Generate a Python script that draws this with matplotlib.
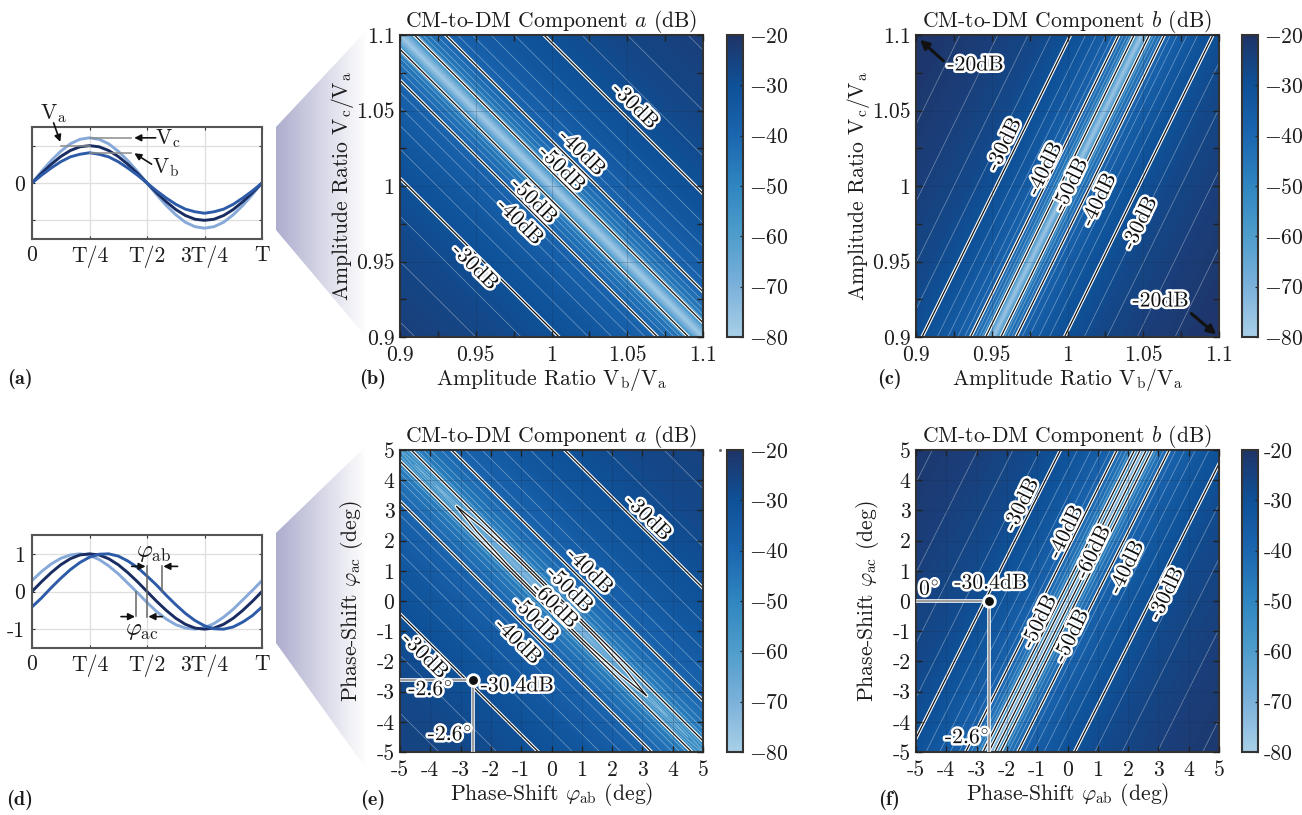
#!/usr/bin/env python3
"""CM-to-DM conversion maps against amplitude and phase imbalance."""

import matplotlib

matplotlib.use("Agg")

import matplotlib.patheffects as pe
import matplotlib.pyplot as plt
import numpy as np
from matplotlib.colors import LinearSegmentedColormap, Normalize
from matplotlib.patches import Polygon

plt.rcParams["font.family"] = "cmr10"
plt.rcParams["mathtext.fontset"] = "cm"
plt.rcParams["axes.unicode_minus"] = False
plt.rcParams["axes.formatter.use_mathtext"] = True
plt.rcParams["contour.negative_linestyle"] = "solid"
plt.rcParams["text.color"] = "#1c1c1c"
plt.rcParams["axes.labelcolor"] = "#1c1c1c"
plt.rcParams["xtick.labelcolor"] = "#1c1c1c"
plt.rcParams["ytick.labelcolor"] = "#1c1c1c"

###############################################################################
# Data
###############################################################################

T_FRAC = [i / 24 for i in range(25)]

VA = [0, .26, .50, .71, .87, .97, 1, .97, .87, .71, .50, .26, 0,
      -.26, -.50, -.71, -.87, -.97, -1, -.97, -.87, -.71, -.50, -.26, 0]
VB = [0, .21, .40, .57, .70, .77, .81, .77, .70, .57, .40, .21, 0,
      -.21, -.40, -.57, -.70, -.77, -.81, -.77, -.70, -.57, -.40, -.21, 0]
VC = [0, .31, .60, .85, 1.05, 1.17, 1.21, 1.17, 1.05, .85, .60, .31, 0,
      -.31, -.60, -.85, -1.05, -1.17, -1.21, -1.17, -1.05, -.85, -.60, -.31, 0]

PA = [0, .26, .50, .71, .87, .97, 1, .97, .87, .71, .50, .26, 0,
      -.26, -.50, -.71, -.87, -.97, -1, -.97, -.87, -.71, -.50, -.26, 0]
PB = [-.41, -.17, .10, .35, .58, .77, .91, .99, 1.0, .94, .81, .64, .41,
      .17, -.10, -.35, -.58, -.77, -.91, -.99, -1.0, -.94, -.81, -.64, -.41]
PC = [.29, .53, .73, .88, .97, 1.0, .96, .85, .68, .47, .22, -.03, -.29,
      -.53, -.73, -.88, -.97, -1.0, -.96, -.85, -.68, -.47, -.22, .03, .29]

# panel (b): distance |Vb/Va + Vc/Va - 2| and level there
B_DIST = [0, .003, .006, .0095, .012, .015, .019, .0238, .03, .038, .0477,
          .06, .0755, .095, .12, .15, .19, .21]
B_DB = [-79, -73, -65, -50, -48, -46, -44, -42, -40, -38, -36,
        -34, -32, -30, -28, -26, -24, -23]

# panel (c): distance of the iso-line from the centre, measured at Vc/Va = 1
C_DIST = [0, .0015, .003, .005, .006, .0075, .0095, .012, .015, .019, .0235,
          .03, .037, .047, .06, .075, .095, .12, .16]
C_DB = [-78, -73, -65, -50, -48, -46, -44, -42, -40, -38, -36,
        -34, -32, -30, -28, -26, -24, -22, -19.5]

# panel (e): levels away from the valley, then the valley along its length
E_DIST = [.37, .7, 1.0, 1.35, 1.7, 2.15, 2.7, 3.4, 4.3, 5.43, 6.8, 8.0, 10.5]
E_DB = [-50, -46.5, -44, -42, -40, -38, -36, -34, -32, -30, -28, -26.6, -24.5]
E_ALONG = [-5.2, -3.14, -2.4, -1.2, 0, 1.2, 2.4, 3.14, 5.2]
E_INNER_DIST = [0, .1, .25]
E_INNER_DB = [
    [-54, -60, -66, -73, -76, -73, -66, -60, -54],
    [-53, -56, -62, -68, -70, -68, -62, -56, -53],
    [-51, -52.5, -57, -60.5, -61.5, -60.5, -57, -52.5, -51],
]

# panel (f): distance of the iso-line from the centre, measured at phi_ac = 0
F_DIST = [0, .1, .2, .285, .35, .43, .54, .68, .86, 1.08, 1.37, 1.72, 2.17,
          2.73, 3.4, 4.3, 5.0, 6.0, 8.0]
F_DB = [-75, -60, -54, -50, -48, -46, -44, -42, -40, -38, -36, -34, -32,
        -30, -28, -26, -24.7, -23.2, -20.7]

# contour label text, x, y
B_LABELS = [("-30dB", 1.0551, 1.053), ("-40dB", 1.0201, 1.0219),
            ("-50dB", 1.0069, 1.0113), ("-50dB", .9884, .9901),
            ("-40dB", .9792, .9762), ("-30dB", .9495, .9464)]
C_LABELS = [("-30dB", .9582, 1.0275), ("-40dB", .985, 1.0115),
            ("-50dB", 1.002, 1.0009), ("-40dB", 1.0207, .9909),
            ("-30dB", 1.0477, .9754)]
E_LABELS = [("-30dB", 3.19, 2.76), ("-40dB", 1.26, .99), ("-50dB", .6, .38),
            ("-60dB", .11, -.14), ("-50dB", -.53, -.6), ("-40dB", -1.1, -1.34),
            ("-30dB", -4.18, -1.81)]
F_LABELS = [("-30dB", -1.52, 3.19), ("-40dB", -.05, 2.29), ("-60dB", .85, 1.62),
            ("-40dB", 1.95, 1.12), ("-30dB", 3.26, .24), ("-50dB", -.93, -.68),
            ("-50dB", .13, -1.15)]

AMP_TICKS = [.9, .95, 1, 1.05, 1.1]
AMP_MINOR = [.925, .975, 1.025, 1.075]
AMP_TICK_LABELS = ["0.9", "0.95", "1", "1.05", "1.1"]
PHASE_TICKS = [-5, -4, -3, -2, -1, 0, 1, 2, 3, 4, 5]
CBAR_TICKS = [-20, -30, -40, -50, -60, -70, -80]
TIME_TICKS = [0, .25, .5, .75, 1]
TIME_LABELS = ["0", "T/4", "T/2", "3T/4", "T"]

CMAP_STOPS = ["#a8cfe8", "#7bb1da", "#4f9dcc", "#2f86c0", "#1b66b0", "#0e5198",
              "#1f3468"]

###############################################################################
# Helpers
###############################################################################

W, H = 1302, 815
DARK = "#333333"
FS = 15.6
CMAP = LinearSegmentedColormap.from_list("cm_dm", CMAP_STOPS)
NORM = Normalize(-80, -20)
FILL_LEVELS = np.arange(-80, -19.5, 0.5)


def _mirror(dist, db):
    dist = np.asarray(dist, float)
    db = np.asarray(db, float)
    return np.r_[-dist[:0:-1], dist], np.r_[db[:0:-1], db]


def _box(left, right, top, bottom):
    return [left / W, 1 - bottom / H, (right - left) / W, (bottom - top) / H]


def _halo(ax, text, x, y, rot=0, size=FS):
    ax.text(x, y, text, rotation=rot, rotation_mode="anchor", ha="center",
            va="center", fontsize=size, color="#111111", zorder=8,
            path_effects=[pe.withStroke(linewidth=3.6, foreground="white")])


def _arrow(ax, tail, head, lw=1.2, scale=10):
    ax.annotate("", xy=head, xytext=tail, annotation_clip=False, zorder=9,
                arrowprops=dict(arrowstyle="-|>", color="#111111", lw=lw,
                                mutation_scale=scale, shrinkA=0, shrinkB=0))


def _marker(ax, x, y):
    for xs, ys in (([ax.get_xlim()[0], x], [y, y]),
                   ([x, x], [ax.get_ylim()[0], y])):
        ax.plot(xs, ys, color="white", lw=2.6, zorder=6, solid_capstyle="butt")
        ax.plot(xs, ys, color="#8c8c8c", lw=1.2, zorder=6,
                solid_capstyle="butt")
    ax.plot([x], [y], "o", ms=8.4, mfc="#111111", mec="white", mew=2, zorder=7)


def _surface(fig, box, cbox, X, Y, Z, main, thin_top, lims, title, xlabel,
             ylabel, ylab_x, labels, rot, ticks, minor, tick_labels):
    ax = fig.add_axes(_box(*box), zorder=2)
    ax.contourf(X, Y, Z, levels=FILL_LEVELS, cmap=CMAP, norm=NORM,
                extend="both", antialiased=False)
    ax.contour(X, Y, Z, levels=np.arange(thin_top, -20, 2), colors="white",
               linewidths=0.5, alpha=0.4)
    ax.contour(X, Y, Z, levels=main, colors="white", linewidths=2.5)
    ax.contour(X, Y, Z, levels=main, colors="#161616", linewidths=0.9)
    ax.set_xlim(lims)
    ax.set_ylim(lims)
    ax.set_xticks(ticks, tick_labels)
    ax.set_yticks(ticks, tick_labels)
    if minor:
        ax.set_xticks(minor, minor=True)
        ax.set_yticks(minor, minor=True)
    ax.tick_params(which="both", direction="in", top=True, right=True,
                   length=4.5, width=1, color="#222222", labelsize=FS, pad=4)
    ax.tick_params(axis="x", which="both", pad=6)
    ax.grid(True, color="#1a2a4a", alpha=0.22, lw=0.7)
    ax.set_axisbelow(False)
    for sp in ax.spines.values():
        sp.set_color(DARK)
        sp.set_linewidth(1.5)
    ax.set_title(title, fontsize=FS, pad=5)
    ax.set_xlabel(xlabel, fontsize=FS, labelpad=1)
    ax.set_ylabel(ylabel, fontsize=FS)
    ax.yaxis.set_label_coords(ylab_x, 0.5)
    for text, x, y in labels:
        _halo(ax, text, x, y, rot=rot)

    cax = fig.add_axes(_box(*cbox), zorder=2)
    cbar = fig.colorbar(plt.cm.ScalarMappable(norm=NORM, cmap=CMAP), cax=cax)
    cbar.set_ticks(CBAR_TICKS, labels=[str(t) for t in CBAR_TICKS])
    cbar.ax.tick_params(direction="in", length=2.5, width=0.9, color="#222222",
                        labelsize=FS, pad=4)
    cbar.outline.set_edgecolor(DARK)
    cbar.outline.set_linewidth(1.5)
    return ax


def _wave(fig, box, series, yticks, ytick_labels):
    ax = fig.add_axes(_box(*box), zorder=2)
    for values, color in series:
        ax.plot(T_FRAC, values, color=color, lw=2.1, solid_joinstyle="round")
    ax.set_xlim(0, 1)
    ax.set_ylim(-1.5, 1.5)
    ax.set_xticks(TIME_TICKS, TIME_LABELS)
    ax.set_yticks(yticks, ytick_labels)
    ax.tick_params(direction="in", top=True, right=True, length=2.5, width=0.8,
                   color="#333333", labelsize=FS, pad=5)
    ax.grid(True, color="#dedede", lw=0.9)
    ax.set_axisbelow(True)
    for sp in ax.spines.values():
        sp.set_color("#555555")
        sp.set_linewidth(1.5)
    return ax


###############################################################################
# Figure
###############################################################################

fig = plt.figure(figsize=(W / 100, H / 100), dpi=100)

# shaded wedges and panel letters live on a pixel-sized backdrop
back = fig.add_axes([0, 0, 1, 1], zorder=0)
back.set_xlim(0, W)
back.set_ylim(H, 0)
back.axis("off")
ramp = np.zeros((1, 256, 4))
ramp[..., 0] = 0.68
ramp[..., 1] = 0.68
ramp[..., 2] = 0.81
ramp[..., 3] = np.linspace(1, 0, 256)
for pts in ([(276, 127), (367, 30), (367, 338), (276, 230)],
            [(276, 533), (367, 445), (367, 770), (276, 643)]):
    ys = [p[1] for p in pts]
    poly = Polygon(pts, fc="none", ec="none")
    back.add_patch(poly)
    im = back.imshow(ramp, extent=(276, 367, max(ys), min(ys)), aspect="auto",
                     interpolation="bilinear")
    im.set_clip_path(poly)
back.set_xlim(0, W)
back.set_ylim(H, 0)
back.plot([720], [449.5], "s", ms=1, color="#666666")
for letter, px, py in (("(a)", 20, 379), ("(b)", 373, 379), ("(c)", 889, 379),
                       ("(d)", 20, 800), ("(e)", 373, 800), ("(f)", 889, 800)):
    back.text(px, py, letter, family="cmb10", fontsize=FS - 1, ha="center",
              va="center")

DARK_WAVE, MID_WAVE, LIGHT_WAVE = "#1a2d63", "#2d5ba8", "#86a9d9"

# (a) amplitude imbalance
ax = _wave(fig, (32, 262, 127, 239),
           [(VC, LIGHT_WAVE), (VA, DARK_WAVE), (VB, MID_WAVE)],
           [-1, 0, 1], ["", "0", ""])
for xs, y in (([.25, .43], 1.21), ([.127, .25], 1.0), ([.25, .43], .81)):
    ax.plot(xs, [y, y], color="#8a8a8a", lw=1.1, zorder=4)
_arrow(ax, (.094, 1.61), (.123, 1.10))
_arrow(ax, (.5376, 1.21), (.4445, 1.21))
_arrow(ax, (.52, .504), (.445, .796))
ax.text(.091, 1.86, r"V$_{\mathrm{a}}$", fontsize=FS, ha="center",
        va="center", clip_on=False)
ax.text(.592, 1.19, r"V$_{\mathrm{c}}$", fontsize=FS, ha="center",
        va="center")
ax.text(.582, .398, r"V$_{\mathrm{b}}$", fontsize=FS, ha="center",
        va="center")

# (d) phase imbalance
ax = _wave(fig, (32, 262, 535, 648),
           [(PC, LIGHT_WAVE), (PA, DARK_WAVE), (PB, MID_WAVE)],
           [-1, 0, 1], ["-1", "0", "1"])
for x, y0, y1 in ((.452, 0, -.65), (.4986, .67, -.67), (.5665, .67, 0)):
    ax.plot([x, x], [y0, y1], color="#666666", lw=1.1, zorder=4)
_arrow(ax, (.4335, .667), (.494, .667))
_arrow(ax, (.633, .667), (.571, .667))
_arrow(ax, (.387, -.667), (.448, -.667))
_arrow(ax, (.5665, -.667), (.506, -.667))
ax.text(.527, 1.02, r"$\varphi_{\mathrm{ab}}$", fontsize=FS + 2, ha="center",
        va="center")
ax.text(.477, -1.04, r"$\varphi_{\mathrm{ac}}$", fontsize=FS + 2, ha="center",
        va="center")

TITLE_A = "CM-to-DM Component $a$ (dB)"
TITLE_B = "CM-to-DM Component $b$ (dB)"
AMP_X = r"Amplitude Ratio V$_{\mathrm{b}}$/V$_{\mathrm{a}}$"
AMP_Y = r"Amplitude Ratio V$_{\mathrm{c}}$/V$_{\mathrm{a}}$"
PHASE_X = r"Phase-Shift $\varphi_{\mathrm{ab}}$ (deg)"
PHASE_Y = r"Phase-Shift $\varphi_{\mathrm{ac}}$ (deg)"
AMP_LIM = (.9, 1.1)
PHASE_LIM = (-5, 5)
PHASE_TEXT = [str(t) for t in PHASE_TICKS]

# (b)
dist, db = _mirror(B_DIST, B_DB)
along = np.array([-.11, .11])
X = (2 + dist)[:, None] / 2 + along[None, :]
Y = (2 + dist)[:, None] / 2 - along[None, :]
Z = np.tile(db[:, None], (1, 2))
_surface(fig, (400, 703, 35, 337), (727, 743, 35, 337), X, Y, Z,
         [-50, -40, -30], -48, AMP_LIM, TITLE_A, AMP_X, AMP_Y, -.145,
         B_LABELS, -45, AMP_TICKS, AMP_MINOR, AMP_TICK_LABELS)

# (c)
dist, db = _mirror(C_DIST, C_DB)
ys = np.array([.89, 1.11])
X = (1 + dist)[:, None] + .49 * (ys[None, :] - 1)
Y = np.tile(ys, (dist.size, 1))
Z = np.tile(db[:, None], (1, 2))
ax = _surface(fig, (916, 1219, 35, 337), (1242, 1258, 35, 337), X, Y, Z,
              [-50, -40, -30], -48, AMP_LIM, TITLE_B, AMP_X, AMP_Y, -.145,
              C_LABELS, 64, AMP_TICKS, AMP_MINOR, AMP_TICK_LABELS)
_halo(ax, "-20dB", .9393, 1.0803)
_halo(ax, "-20dB", 1.0615, .924)
_arrow(ax, (.9181, 1.0829), (.9026, 1.0969), lw=2.2, scale=13)
_arrow(ax, (1.0818, .9155), (1.0982, .9016), lw=2.2, scale=13)

# (e)
outer = np.tile(np.asarray(E_DB, float)[:, None], (1, len(E_ALONG)))
dist = np.r_[E_INNER_DIST, E_DIST]
table = np.vstack([E_INNER_DB, outer])
dist = np.r_[-dist[:0:-1], dist]
table = np.vstack([table[:0:-1], table])
along = np.asarray(E_ALONG)
X = dist[:, None] / 2 + along[None, :]
Y = dist[:, None] / 2 - along[None, :]
ax = _surface(fig, (400, 703, 450, 752), (727, 743, 450, 752), X, Y, table,
              [-60, -50, -40, -30], -58, PHASE_LIM, TITLE_A, PHASE_X, PHASE_Y,
              -.115, E_LABELS, -45, PHASE_TICKS, None, PHASE_TEXT)
_marker(ax, -2.6, -2.6)
_halo(ax, r"-2.6$^{\circ}$", -3.99, -2.93)
_halo(ax, "-30.4dB", -1.13, -2.8)
_halo(ax, r"-2.6$^{\circ}$", -3.35, -4.42)

# (f)
dist, db = _mirror(F_DIST, F_DB)
ys = np.array([-5.2, 5.2])
X = dist[:, None] + .5 * ys[None, :]
Y = np.tile(ys, (dist.size, 1))
Z = np.tile(db[:, None], (1, 2))
ax = _surface(fig, (916, 1219, 450, 752), (1242, 1258, 450, 752), X, Y, Z,
              [-60, -50, -40, -30], -48, PHASE_LIM, TITLE_B, PHASE_X, PHASE_Y,
              -.115, F_LABELS, 64, PHASE_TICKS, None, PHASE_TEXT)
_marker(ax, -2.6, 0)
_halo(ax, r"0$^{\circ}$", -4.56, .40)
_halo(ax, "-30.4dB", -2.53, .6)
_halo(ax, r"-2.6$^{\circ}$", -3.31, -4.52)

fig.savefig("out.png", dpi=100)
